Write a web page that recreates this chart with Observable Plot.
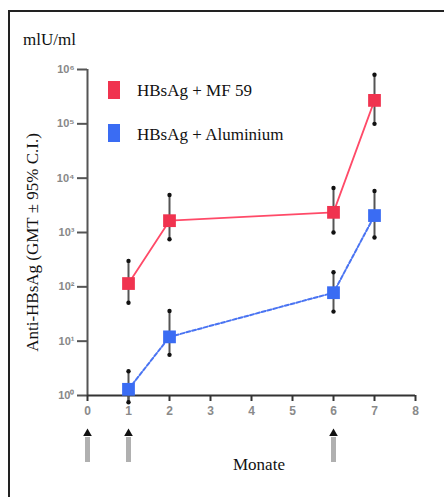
<!DOCTYPE html>
<html>
<head>
<meta charset="utf-8">
<script src="https://cdn.jsdelivr.net/npm/d3@7"></script>
<script src="https://cdn.jsdelivr.net/npm/@observablehq/plot@0.6"></script>
<style>
  body { margin: 0; background: #fff; }
  #wrap { position: relative; width: 444px; height: 497px; overflow: hidden; background: #fff; }
  #wrap svg { position: absolute; left: 0; top: 0; }
  .frame { position: absolute; left: 8px; top: 10px; width: 600px; height: 600px; border: 2px solid #222; pointer-events: none; }
  .t { position: absolute; font-family: "Liberation Serif", "Times New Roman", serif; font-size: 17px; line-height: 17px; color: #111; white-space: nowrap; }
  .sw { position: absolute; width: 12px; height: 18px; }
  .ylab { position: absolute; width: 260px; height: 17px; text-align: center; left: -98px; top: 234px; transform: rotate(-90deg); }
</style>
</head>
<body>
<div id="wrap">
  <div class="t" style="left:23px;top:31px">mlU/ml</div>
  <div class="t ylab" id="ylab"></div>
  <div class="sw" style="left:108px;top:81px;background:#f0334f"></div>
  <div class="t" style="left:137px;top:82px">HBsAg + MF 59</div>
  <div class="sw" style="left:108px;top:124px;background:#3a6cf3"></div>
  <div class="t" style="left:137px;top:126px">HBsAg + Aluminium</div>
  <div class="t" style="left:233px;top:456px">Monate</div>
  <div class="frame"></div>
</div>
<script>
// Data
const months = [1, 2, 6, 7];
const mf59Gmt = [115, 1650, 2350, 270000];
const mf59Lo = [51, 750, 1000, 100000];
const mf59Hi = [300, 4900, 6600, 800000];
const aluGmt = [1.3, 12, 78, 2050];
const aluLo = [0.75, 5.6, 35, 810];
const aluHi = [2.8, 36, 185, 5800];
const vaccinationMonths = [0, 1, 6];
const xTicks = [0, 1, 2, 3, 4, 5, 6, 7, 8];
const yTicks = [1, 10, 100, 1000, 10000, 100000, 1000000];
const yLabel = "Anti-HBsAg (GMT ± 95% C.I.)";

document.getElementById("ylab").textContent = yLabel;

const mf59 = months.map((m, i) => ({month: m, gmt: mf59Gmt[i], lo: mf59Lo[i], hi: mf59Hi[i]}));
const alu = months.map((m, i) => ({month: m, gmt: aluGmt[i], lo: aluLo[i], hi: aluHi[i]}));

const sup = {"0":"⁰","1":"¹","2":"²","3":"³","4":"⁴","5":"⁵","6":"⁶","7":"⁷","8":"⁸","9":"⁹"};
const fmt = d => "10" + String(Math.round(Math.log10(d))).split("").map(c => sup[c]).join("");

const RED = "#f0334f", RED_LINE = "#ff4a68", BLUE = "#3a6cf3", BLUE_LINE = "#4a74f2";

const chart = Plot.plot({
  width: 444,
  height: 497,
  marginLeft: 87,
  marginRight: 29,
  marginTop: 69,
  marginBottom: 102,
  style: {background: "transparent", fontFamily: "Liberation Sans, Arial, sans-serif"},
  x: {domain: [0, 8]},
  y: {type: "log", domain: [1, 1e6]},
  marks: [
    // vaccination arrows
    Plot.ruleX(vaccinationMonths, {x: d => d, stroke: "#b0b0b0", strokeWidth: 5, insetTop: 368, insetBottom: -67}),
    Plot.dot(vaccinationMonths, {x: d => d, frameAnchor: "bottom", dy: 38, symbol: "triangle", r: 3.2, fill: "#111", stroke: "none"}),
    // axes
    Plot.axisY({ticks: yTicks, tickFormat: fmt, tickSize: 10, tickPadding: 3, strokeWidth: 2, stroke: "#555", fill: "#888", fontSize: 11, fontWeight: "bold", label: null}),
    Plot.axisX({ticks: xTicks, tickFormat: d => String(d), tickSize: 6, tickPadding: 5, strokeWidth: 2, stroke: "#333", fill: "#8a8a8a", fontSize: 12, fontWeight: "bold", label: null}),
    Plot.ruleX([0], {y1: 1, y2: 1e6, stroke: "#555", strokeWidth: 2}),
    Plot.ruleY([1], {stroke: "#333", strokeWidth: 2}),
    // error bars
    Plot.ruleX(mf59, {x: "month", y1: "lo", y2: "hi", stroke: "#555", strokeWidth: 2}),
    Plot.ruleX(alu, {x: "month", y1: "lo", y2: "hi", stroke: "#555", strokeWidth: 2}),
    Plot.dot(mf59.concat(alu), {x: "month", y: "lo", r: 2.2, fill: "#111", stroke: "none"}),
    Plot.dot(mf59.concat(alu), {x: "month", y: "hi", r: 2.2, fill: "#111", stroke: "none"}),
    // lines
    Plot.line(mf59, {x: "month", y: "gmt", stroke: RED_LINE, strokeWidth: 1.8}),
    Plot.line(alu, {x: "month", y: "gmt", stroke: BLUE_LINE, strokeWidth: 2, strokeDasharray: "4,2"}),
    // markers
    Plot.dot(mf59, {x: "month", y: "gmt", symbol: "square", r: 7.2, fill: RED, stroke: "none"}),
    Plot.dot(alu, {x: "month", y: "gmt", symbol: "square", r: 7.2, fill: BLUE, stroke: "none"})
  ]
});
document.getElementById("wrap").prepend(chart);
</script>
</body>
</html>
